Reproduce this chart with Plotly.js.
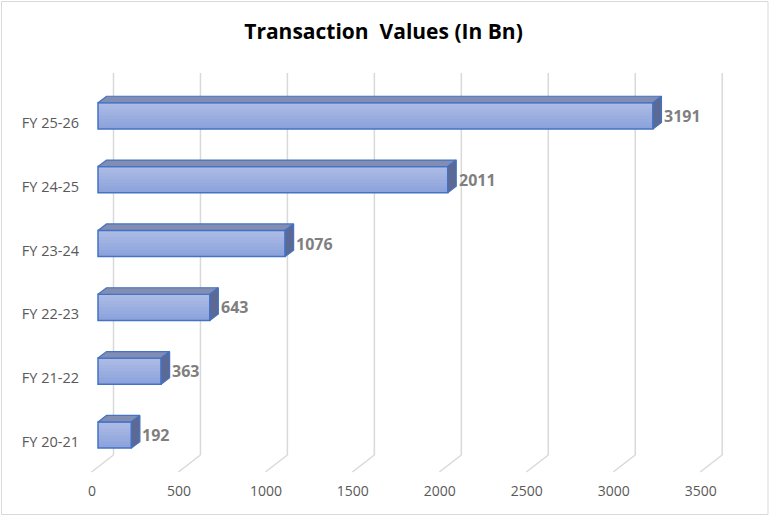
<!DOCTYPE html>
<html>
<head>
<meta charset="utf-8">
<script src="https://cdn.plot.ly/plotly-3.0.1.min.js"></script>
<style>html,body{margin:0;padding:0;background:#fff;}#chart{width:770px;height:518px;}</style>
</head>
<body>
<div id="chart"></div>
<script>
// ---- data ----
const categories = ['FY 20-21', 'FY 21-22', 'FY 22-23', 'FY 23-24', 'FY 24-25', 'FY 25-26'];
const values = [192, 363, 643, 1076, 2011, 3191];
const xTickVals = [0, 500, 1000, 1500, 2000, 2500, 3000, 3500];
const xTickText = ['0', '500', '1000', '1500', '2000', '2500', '3000', '3500'];
const titleText = 'Transaction\u00a0 Values (In Bn)';

// ---- style ----
const W = 770, H = 518;
const M = {l: 85, r: 45, t: 70, b: 43};
const plotW = W - M.l - M.r, plotH = H - M.t - M.b;
// front-plane scale: value 0 sits 13px right of plot left, 3500 spans 608.7px
const ZERO_PX = 13, SPAN_PX = 608.7, XMAX = 3500;
const pxPerX = SPAN_PX / XMAX;
const xRange = [-ZERO_PX / pxPerX, (plotW - ZERO_PX) / pxPerX];
// category scale: 63.83px per category, first category centre 40px above plot bottom
const pxPerCat = 63.83, CAT0_PX = 40;
const yRange = [-CAT0_PX / pxPerCat, (plotH - CAT0_PX) / pxPerCat];

const BAR_W = 0.41;
const DEPTH_PX = {x: 8.5, y: 6.5};
const DX = DEPTH_PX.x / pxPerX, DY = DEPTH_PX.y / pxPerCat;
const idx = categories.map((_, i) => i);
const edge = '#4472c4';

// front faces: nested bars growing lighter towards the top (vertical gradient), then an outline bar
const traces = [];
const STRIPES = 8;
const cBot = [140, 163, 219], cTop = [172, 187, 229];
for (let k = 0; k < STRIPES; k++) {
  const t = k / (STRIPES - 1);
  const c = cBot.map((b, j) => Math.round(b + (cTop[j] - b) * t));
  const off = -BAR_W / 2 + k * BAR_W / STRIPES;
  traces.push({type: 'bar', orientation: 'h', x: values, y: idx,
    width: BAR_W / 2 - off, offset: off,
    marker: {color: 'rgb(' + c.join(',') + ')', line: {width: 0}}, hoverinfo: 'skip'});
}
traces.push({type: 'bar', orientation: 'h', x: values, y: idx, width: BAR_W, offset: -BAR_W / 2,
  marker: {color: 'rgba(0,0,0,0)', line: {color: edge, width: 1.5}}, hoverinfo: 'skip'});

const topX = [], topY = [], sideX = [], sideY = [];
values.forEach((v, i) => {
  const h = BAR_W / 2;
  topX.push(0, v, v + DX, DX, 0, null);
  topY.push(i + h, i + h, i + h + DY, i + h + DY, i + h, null);
  sideX.push(v, v + DX, v + DX, v, v, null);
  sideY.push(i - h, i - h + DY, i + h + DY, i + h, i - h, null);
});
traces.push({type: 'scatter', mode: 'lines', x: topX, y: topY, fill: 'toself', fillcolor: '#818db3',
  line: {color: edge, width: 1.2}, hoverinfo: 'skip'});
traces.push({type: 'scatter', mode: 'lines', x: sideX, y: sideY, fill: 'toself', fillcolor: '#5b6994',
  line: {color: edge, width: 1.2}, hoverinfo: 'skip'});

// back-wall gridlines and floor diagonals (pixel offsets from the front plane / plot bottom)
const shapes = [];
const BACK = 15.5, FRONT = -6.5, GB = 20, GT = 402, FLOOR = 3;
xTickVals.forEach(v => {
  shapes.push({type: 'line', layer: 'below', xref: 'x', xsizemode: 'pixel', xanchor: v, x0: BACK, x1: BACK,
    yref: 'paper', ysizemode: 'pixel', yanchor: 0, y0: GB, y1: GT, line: {color: '#d9d9d9', width: 1.5}});
  shapes.push({type: 'line', layer: 'below', xref: 'x', xsizemode: 'pixel', xanchor: v, x0: BACK, x1: FRONT,
    yref: 'paper', ysizemode: 'pixel', yanchor: 0, y0: GB, y1: FLOOR, line: {color: '#d9d9d9', width: 1.5}});
});
// chart border
shapes.push({type: 'rect', xref: 'paper', xsizemode: 'pixel', xanchor: 0, x0: 1.5 - M.l, x1: 768 - M.l,
  yref: 'paper', ysizemode: 'pixel', yanchor: 0, y0: (H - M.b) - 514.5, y1: (H - M.b) - 1.5,
  line: {color: '#d9d9d9', width: 1}});

const annotations = values.map((v, i) => ({
  x: v, y: i, xref: 'x', yref: 'y', text: String(v), showarrow: false,
  xanchor: 'left', yanchor: 'middle', xshift: 9, yshift: 0,
  font: {family: 'Open Sans', size: 16, color: '#7f7f7f', weight: 'bold'}
}));

const layout = {
  width: W, height: H,
  margin: M,
  barmode: 'overlay',
  paper_bgcolor: '#fff', plot_bgcolor: 'rgba(0,0,0,0)',
  showlegend: false,
  title: {text: '<b>' + titleText + '</b>', x: 383.5 / W, xref: 'container', xanchor: 'center',
    y: 1 - 32 / H, yref: 'container', yanchor: 'middle',
    font: {family: 'Open Sans', size: 21, color: '#000'}},
  xaxis: {range: xRange, tickvals: xTickVals, ticktext: xTickText, showgrid: false, zeroline: false,
    showline: false, ticks: '', ticklabelshift: -6, ticklabelstandoff: 6,
    tickfont: {family: 'Open Sans', size: 14, color: '#595959'}, fixedrange: true},
  yaxis: {range: yRange, tickvals: idx, ticktext: categories, showgrid: false,
    zeroline: false, showline: false, ticks: '', ticklabelshift: 7, ticklabelstandoff: 5,
    tickfont: {family: 'Open Sans', size: 14.5, color: '#595959'}, fixedrange: true},
  shapes: shapes,
  annotations: annotations
};

Plotly.newPlot('chart', traces, layout, {displayModeBar: false, staticPlot: true});
</script>
</body>
</html>
